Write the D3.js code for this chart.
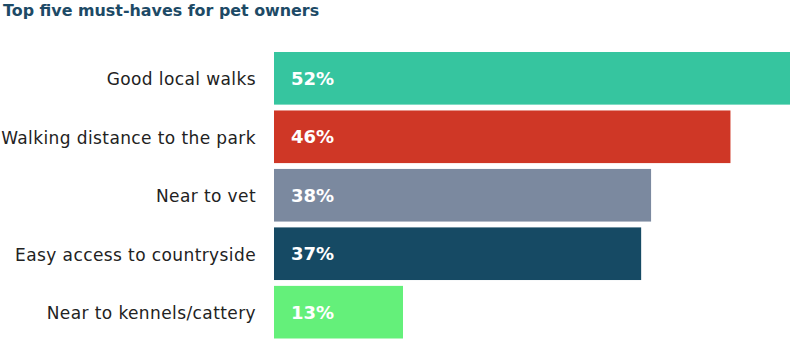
<!DOCTYPE html>
<html>
<head>
<meta charset="utf-8">
<script src="https://cdn.jsdelivr.net/npm/d3@7"></script>
<style>
  html, body { margin: 0; padding: 0; background: #ffffff; }
  svg { display: block; }
</style>
</head>
<body>
<svg id="chart" width="791" height="339"></svg>
<script>
// Survey results: share of pet owners naming each must-have
const categories = [
  "Good local walks",
  "Walking distance to the park",
  "Near to vet",
  "Easy access to countryside",
  "Near to kennels/cattery"
];
const values = [52, 46, 38, 37, 13];
const barColors = ["#36c59f", "#cf3726", "#7b899f", "#164a64", "#64f07a"];
const title = "Top five must-haves for pet owners";

const svg = d3.select("#chart");

const x = d3.scaleLinear()
  .domain([0, 52])
  .range([274, 790]);

const y = d3.scaleBand()
  .domain(categories)
  .range([52, 338.5])
  .paddingInner(0.1)
  .paddingOuter(0);

// Title
svg.append("text")
  .attr("x", 3)
  .attr("y", 16)
  .attr("font-family", "'DejaVu Sans', sans-serif")
  .attr("font-weight", "bold")
  .attr("font-size", 15.9)
  .attr("fill", "#1d4a66")
  .text(title);

// Bars
svg.append("g")
  .selectAll("rect")
  .data(values)
  .join("rect")
  .attr("x", x(0))
  .attr("y", (d, i) => y(categories[i]))
  .attr("width", d => x(d) - x(0))
  .attr("height", y.bandwidth())
  .attr("fill", (d, i) => barColors[i]);

// Value labels inside bars
svg.append("g")
  .selectAll("text")
  .data(values)
  .join("text")
  .attr("x", x(0) + 17)
  .attr("y", (d, i) => y(categories[i]) + y.bandwidth() / 2)
  .attr("dy", "0.36em")
  .attr("font-family", "'DejaVu Sans', sans-serif")
  .attr("font-weight", "bold")
  .attr("font-size", 18)
  .attr("fill", "#ffffff")
  .text(d => d + "%");

// Category axis labels
const yAxis = d3.axisLeft(y).tickSize(0).tickPadding(18);
const gy = svg.append("g")
  .attr("transform", `translate(${x(0)},0)`)
  .call(yAxis);
gy.select(".domain").remove();
gy.selectAll("text")
  .attr("font-family", "'DejaVu Sans', sans-serif")
  .attr("font-size", 17)
  .attr("letter-spacing", 0.4)
  .attr("fill", "#222222")
  .attr("dy", "0.4em");
</script>
</body>
</html>
